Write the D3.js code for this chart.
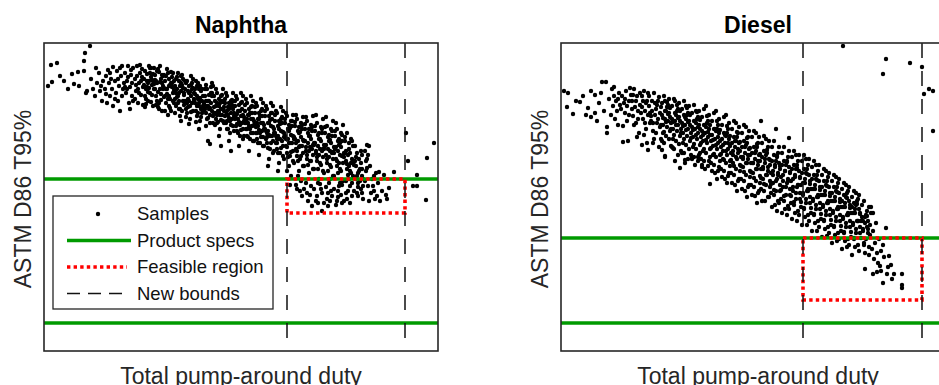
<!DOCTYPE html>
<meta charset="utf-8">
<style>
body { margin: 0; background: #fff; }
text { font-family: "Liberation Sans", Arial, sans-serif; }
</style>
<svg width="939" height="385"></svg>
<script src="https://d3js.org/d3.v7.min.js"></script>
<script>

// values in arbitrary units: duty 0..394, T95 0..308 (no ticks on the original)
var dutyDomain = [0, 394],
    t95Domain = [0, 308];

var panelNames = ["Naphtha", "Diesel"];
var legendLabels = ["Samples", "Product specs", "Feasible region", "New bounds"];

var naphthaSpecs = [172, 28],
    dieselSpecs = [113, 28];
var naphthaBounds = [243, 361],
    dieselBounds = [242, 361];
// [duty lo, duty hi, t95 lo, t95 hi]
var naphthaFeasible = [243, 361, 138, 172],
    dieselFeasible = [242, 361, 51, 113];

var naphthaSamples = [
 [4,265],[8,269],[7,286],[13,288],[20,270],[28,277],[30,267],[34,279],[35,265],[40,280],[40,290],[41,298],[46,305],[43,260],[42,258],[24,262],[16,275],
 [47,272],[49,262],[51,255],[53,268],[55,278],[56,260],[58,250],[59,270],[52,283],[57,265],
 [61,262],[62,275],[63,248],[64,281],[65,268],[66,255],[67,272],[68,262],[69,284],[69,245],[62,257],[66,278],
 [71,270],[72,258],[73,280],[74,250],[75,265],[76,240],[77,275],[78,285],[79,262],[71,252],[74,272],[78,255],[76,283],[80,268],
 [81,278],[82,258],[83,270],[84,285],[85,248],[86,264],[87,276],[88,255],[89,283],[81,264],[84,274],[86,242],[88,268],[89,250],[83,262],[87,281],
 [91,272],[92,260],[93,285],[94,248],[95,268],[96,278],[97,256],[98,282],[99,264],[91,252],[93,275],[95,258],[97,270],[99,246],[92,266],[96,286],[98,274],[94,262],
 [101,280],[102,262],[103,270],[104,250],[105,285],[106,258],[107,274],[108,266],[109,245],[101,255],[103,277],[105,263],[107,283],[109,270],[102,247],[104,268],[106,278],[108,256],[110,262],[100,272],
 [111,276],[112,255],[113,268],[114,282],[115,248],[116,262],[117,272],[118,240],[119,265],[111,262],[113,250],[115,279],[117,257],[119,275],[112,270],[114,244],[116,285],[118,268],[120,254],[110,283],
 [121,270],[122,248],[123,262],[124,278],[125,255],[126,266],[127,240],[128,274],[129,258],[121,255],[123,282],[125,245],[127,268],[129,278],[122,262],[124,236],[126,252],[128,264],[130,248],[120,276],[125,272],
 [131,265],[132,245],[133,274],[134,255],[135,270],[136,235],[137,260],[138,276],[139,250],[131,252],[133,262],[135,242],[137,268],[139,272],[132,258],[134,278],[136,265],[138,240],[140,258],[130,270],[135,250],[137,230],
 [141,262],[142,242],[143,270],[144,252],[145,258],[146,232],[147,266],[148,248],[149,272],[141,250],[143,238],[145,265],[147,255],[149,240],[142,268],[144,260],[146,245],[148,262],[150,252],[140,246],[145,227],[147,275],
 [151,262],[152,240],[153,255],[154,268],[155,245],[156,230],[157,260],[158,250],[159,272],[151,248],[153,235],[155,262],[157,242],[159,255],[152,270],[154,252],[156,265],[158,238],[160,246],[150,258],[155,222],[157,250],[153,245],
 [161,255],[162,238],[163,262],[164,245],[165,250],[166,228],[167,258],[168,240],[169,265],[161,242],[163,232],[165,256],[167,248],[169,235],[162,266],[164,250],[166,243],[168,255],[170,238],[160,248],[164,210],[166,207],[162,225],[168,268],
 [171,250],[172,232],[173,258],[174,240],[175,245],[176,222],[177,255],[178,236],[179,262],[171,238],[173,228],[175,252],[177,242],[179,230],[172,262],[174,246],[176,236],[178,250],[180,240],[170,255],[175,215],[177,205],[173,248],
 [181,248],[182,228],[183,255],[184,236],[185,242],[186,218],[187,250],[188,232],[189,258],[181,235],[183,222],[185,248],[187,238],[189,225],[182,258],[184,244],[186,230],[188,246],[190,235],[180,228],[185,210],[187,200],[183,240],[189,250],
 [191,245],[192,225],[193,252],[194,232],[195,240],[196,215],[197,248],[198,228],[199,255],[191,232],[193,220],[195,246],[197,235],[199,222],[192,255],[194,240],[196,226],[198,242],[200,230],[190,220],[195,205],[197,258],[193,237],[199,212],
 [201,240],[202,222],[203,248],[204,228],[205,236],[206,212],[207,244],[208,225],[209,250],[201,228],[203,215],[205,242],[207,232],[209,218],[202,252],[204,236],[206,222],[208,238],[210,226],[200,215],[205,200],[207,255],[203,232],[209,210],
 [211,238],[212,218],[213,245],[214,225],[215,232],[216,208],[217,240],[218,220],[219,248],[211,225],[213,212],[215,238],[217,228],[219,214],[212,248],[214,232],[216,218],[218,235],[220,222],[210,210],[215,196],[217,252],[213,228],[219,205],
 [221,235],[222,212],[223,242],[224,220],[225,228],[226,202],[227,238],[228,215],[229,245],[221,222],[223,208],[225,235],[227,225],[229,210],[222,245],[224,228],[226,215],[228,232],[230,218],[220,205],[225,192],[227,248],[223,218],[229,198],[224,185],
 [231,230],[232,208],[233,238],[234,215],[235,222],[236,198],[237,232],[238,210],[239,240],[231,218],[233,202],[235,230],[237,220],[239,205],[232,240],[234,225],[236,212],[238,228],[240,214],[230,200],[235,188],[237,244],[233,212],[239,195],[234,180],
 [241,228],[242,205],[243,235],[244,212],[245,220],[246,195],[247,230],[248,208],[249,236],[241,215],[243,198],[245,226],[247,216],[249,200],[242,238],[244,222],[246,208],[248,225],[250,212],[240,192],[245,185],[247,175],[243,180],[249,190],[246,166],
 [251,225],[252,202],[253,232],[254,210],[255,218],[256,192],[257,228],[258,205],[259,234],[251,212],[253,195],[255,224],[257,214],[259,198],[252,236],[254,220],[256,205],[258,222],[260,210],[250,188],[255,180],[257,170],[253,162],[259,185],[254,175],[258,155],
 [261,222],[262,200],[263,230],[264,208],[265,215],[266,190],[267,226],[268,202],[269,235],[261,210],[263,192],[265,222],[267,212],[269,196],[262,234],[264,218],[266,204],[268,220],[270,208],[260,185],[265,178],[267,165],[263,158],[269,182],[264,150],[268,145],
 [271,220],[272,198],[273,228],[274,205],[275,212],[276,188],[277,224],[278,200],[279,232],[271,208],[273,190],[275,218],[277,210],[279,194],[272,236],[274,216],[276,202],[278,218],[280,206],[270,182],[275,172],[277,162],[273,155],[279,180],[274,148],[278,140],[276,167],
 [281,218],[282,196],[283,225],[284,202],[285,210],[286,186],[287,222],[288,198],[289,230],[281,205],[283,188],[285,216],[287,208],[289,192],[282,234],[284,214],[286,200],[288,215],[290,204],[280,178],[285,168],[287,160],[283,152],[289,175],[284,145],[288,155],[286,172],
 [291,215],[292,192],[293,222],[294,200],[295,206],[296,182],[297,218],[298,195],[299,226],[291,202],[293,185],[295,212],[297,204],[299,188],[292,228],[294,210],[296,196],[298,210],[300,198],[290,175],[295,165],[297,156],[293,150],[299,170],[294,160],[298,148],
 [301,210],[302,190],[303,218],[304,196],[305,202],[306,180],[307,212],[308,192],[309,205],[301,198],[303,182],[305,208],[307,188],[309,175],[302,170],[304,160],[306,165],[308,155],[300,150],[305,172],[303,152],
 [311,205],[312,185],[313,198],[314,178],[315,192],[316,170],[317,200],[318,182],[319,165],[311,190],[313,158],[315,180],[317,162],[319,152],[312,172],[314,155],[318,175],
 [321,200],[322,180],[323,192],[324,165],[326,185],[327,158],[328,172],[330,160],[332,178],[333,155],[321,170],[325,150],[329,165],[331,152],[334,168],[323,183],
 [335,179],[340,176],[350,179],[338,160],[342,156],[345,163],[336,150],[362,218],[364,190],[373,176],[383,193],[390,208],[369,165],[373,165],[382,151],[323,206],[325,205],[322,190],[324,196],[343,152],[330,175],
 // denser core
 [100,266],[104,259],[108,271],[102,252],[106,283],[103,264],[107,249],[109,277],[101,244],[105,270],
 [110,267],[114,259],[118,276],[112,246],[116,269],[113,280],[117,251],[119,262],[111,271],[115,242],
 [120,263],[124,252],[128,268],[122,275],[126,243],[123,257],[127,279],[129,250],[121,240],[125,265],
 [130,261],[134,248],[138,266],[132,272],[136,242],[133,254],[137,275],[139,263],[131,238],[135,258],
 [140,256],[144,244],[148,268],[142,234],[146,259],[143,248],[147,239],[149,263],[141,270],[145,250],
 [150,251],[154,238],[158,262],[152,229],[156,253],[153,265],[157,234],[159,245],[151,257],[155,248],
 [160,241],[164,233],[168,258],[162,250],[166,236],[163,245],[167,264],[169,228],[161,262],[165,242],
 [170,244],[174,229],[178,256],[172,245],[176,248],[173,236],[177,231],[179,249],[171,226],[175,239],
 [180,244],[184,222],[188,251],[182,239],[186,244],[183,230],[187,226],[189,242],[181,252],[185,233],
 [190,238],[194,218],[198,249],[192,233],[196,240],[193,227],[197,221],[199,236],[191,250],[195,229],
 [200,234],[204,214],[208,245],[202,228],[206,238],[203,222],[207,218],[209,232],[201,246],[205,225],
 [210,230],[214,208],[218,242],[212,224],[216,235],[213,218],[217,214],[219,228],[211,244],[215,221],
 [220,226],[224,203],[228,238],[222,220],[226,231],[223,214],[227,208],[229,224],[221,240],[225,216],
 [230,222],[234,198],[238,234],[232,215],[236,227],[233,208],[237,203],[239,219],[231,236],[235,212],
 [240,218],[244,194],[248,230],[242,212],[246,223],[243,204],[247,199],[249,215],[241,232],[245,208],
 [250,214],[254,190],[258,226],[252,208],[256,219],[253,200],[257,195],[259,211],[251,229],[255,204],
 [260,210],[264,186],[268,224],[262,204],[266,215],[263,196],[267,190],[269,206],[261,227],[265,200],
 [270,206],[274,182],[278,222],[272,200],[276,212],[273,194],[277,186],[279,202],[271,225],[275,196],
 [280,202],[284,180],[288,220],[282,206],[286,211],[283,192],[287,184],[289,199],[281,224],[285,194],
 [290,198],[294,178],[298,216],[292,204],[296,208],[293,190],[297,180],[299,195],[291,220],[295,188],
 [300,194],[304,176],[308,210],[302,200],[306,198],[303,187],[307,178],[309,190],[301,214],[305,185],
 [310,186],[314,168],[318,196],[312,194],[316,182],[313,175],[317,188],[319,172],
 [252,166],[256,160],[262,168],[266,156],[270,162],[274,168],[278,158],[282,164],[286,150],[290,162],[294,154],[298,166],
 [302,158],[306,148],[310,160],[314,164],[318,158],[260,162],[272,150],[284,158],[296,168],[308,168],[280,148],[292,146]
];

var dieselSamples = [
 [3,260],[7,258],[6,244],[12,237],[19,249],[27,243],[30,260],[30,234],[34,256],[34,238],[40,258],[41,269],[45,269],[46,224],[46,218],[22,255],[15,250],[38,248],[43,240],[48,252],[36,230],[25,236],
 [51,262],[52,245],[53,255],[54,232],[55,250],[56,240],[57,226],[58,258],[59,246],[50,236],[53,264],[57,252],
 [61,255],[62,209],[63,248],[64,238],[65,260],[66,230],[67,210],[68,250],[69,263],[60,242],[62,225],[64,252],[66,245],[68,236],[70,256],
 [71,250],[72,235],[73,262],[74,244],[75,228],[76,255],[77,240],[78,218],[79,258],[71,242],[73,226],[75,250],[77,232],[79,246],[72,256],[76,214],[80,238],
 [81,255],[82,232],[83,260],[84,240],[85,222],[86,250],[87,236],[88,245],[89,228],[81,244],[83,216],[85,248],[87,258],[89,238],[82,250],[84,228],[86,208],[88,255],[90,235],
 [91,250],[92,228],[93,258],[94,236],[95,218],[96,246],[97,232],[98,254],[99,224],[91,240],[93,212],[95,242],[97,250],[99,238],[92,220],[94,248],[96,228],[98,204],[100,244],[90,230],
 [101,248],[102,226],[103,255],[104,232],[105,215],[106,244],[107,230],[108,252],[109,220],[101,236],[103,208],[105,240],[107,246],[109,234],[102,218],[104,195],[106,224],[108,238],[110,228],[100,212],[104,250],
 [111,245],[112,222],[113,252],[114,230],[115,210],[116,240],[117,226],[118,248],[119,215],[111,232],[113,202],[115,236],[117,242],[119,230],[112,212],[114,190],[116,220],[118,234],[120,222],[110,205],[119,183],[114,250],[117,196],
 [121,242],[122,218],[123,250],[124,226],[125,206],[126,236],[127,222],[128,245],[129,210],[121,228],[123,198],[125,232],[127,238],[129,226],[122,208],[124,188],[126,215],[128,230],[130,218],[120,200],[125,245],[127,192],[123,236],
 [131,238],[132,214],[133,246],[134,222],[135,202],[136,232],[137,218],[138,240],[139,206],[131,224],[133,194],[135,228],[137,234],[139,222],[132,204],[134,186],[136,212],[138,226],[140,214],[130,196],[135,240],[137,190],[133,230],[139,198],
 [141,234],[142,210],[143,242],[144,218],[145,198],[146,228],[147,214],[148,236],[149,202],[141,220],[143,190],[145,224],[147,230],[149,216],[142,200],[144,182],[146,208],[148,222],[150,210],[140,192],[145,245],[147,185],[143,226],[149,194],[149,167],
 [151,230],[152,205],[153,238],[154,212],[155,194],[156,222],[157,208],[158,232],[159,196],[151,216],[153,186],[155,220],[157,226],[159,210],[152,196],[154,178],[156,202],[158,218],[160,204],[150,188],[155,240],[157,180],[153,222],[159,190],[156,172],
 [161,226],[162,200],[163,234],[164,208],[165,188],[166,218],[167,202],[168,228],[169,190],[161,212],[163,180],[165,215],[167,222],[169,205],[162,192],[164,172],[166,196],[168,212],[170,198],[160,182],[165,236],[167,175],[163,218],[169,185],[166,168],
 [171,222],[172,196],[173,230],[174,204],[175,182],[176,214],[177,198],[178,224],[179,186],[171,208],[173,176],[175,210],[177,218],[179,200],[172,188],[174,166],[176,192],[178,208],[180,194],[170,178],[175,228],[177,170],[173,214],[179,180],[176,160],
 [181,218],[182,192],[183,226],[184,198],[185,176],[186,208],[187,192],[188,220],[189,180],[181,204],[183,170],[185,206],[187,214],[189,196],[182,184],[184,160],[186,188],[188,202],[190,188],[180,172],[185,224],[187,164],[183,210],[189,174],[186,154],
 [191,214],[192,188],[193,220],[194,192],[195,170],[196,204],[197,186],[198,214],[199,175],[191,198],[193,164],[195,200],[197,208],[199,190],[192,178],[194,155],[196,182],[198,196],[200,182],[190,166],[195,218],[197,158],[193,204],[199,168],[196,148],
 [201,208],[202,184],[203,215],[204,188],[205,166],[206,198],[207,180],[208,210],[209,170],[201,194],[203,160],[205,196],[207,204],[209,186],[202,172],[204,150],[206,176],[208,192],[210,178],[200,162],[205,212],[207,154],[203,200],[209,164],[200,230],
 [211,204],[212,180],[213,210],[214,184],[215,160],[216,194],[217,176],[218,204],[219,166],[211,190],[213,156],[215,190],[217,198],[219,182],[212,168],[214,146],[216,172],[218,188],[220,174],[210,158],[215,222],[217,150],[213,196],[219,160],[216,140],
 [221,198],[222,176],[223,204],[224,180],[225,156],[226,190],[227,170],[228,200],[229,162],[221,186],[223,150],[225,186],[227,194],[229,178],[222,164],[224,142],[226,168],[228,184],[230,170],[220,152],[228,213],[227,145],[223,190],[229,156],[226,136],
 [231,194],[232,172],[233,200],[234,176],[235,152],[236,186],[237,166],[238,196],[239,158],[231,182],[233,146],[235,182],[237,190],[239,174],[232,160],[234,138],[236,164],[238,180],[240,166],[230,148],[235,196],[237,140],[233,186],[239,152],[236,130],
 [241,190],[242,168],[243,196],[244,172],[245,148],[246,182],[247,162],[248,192],[249,154],[241,178],[243,142],[245,178],[247,186],[249,170],[242,156],[244,134],[246,160],[248,176],[250,162],[240,144],[245,192],[247,136],[243,182],[249,148],[246,126],
 [251,184],[252,162],[253,190],[254,166],[255,142],[256,176],[257,156],[258,186],[259,148],[251,172],[253,136],[255,172],[257,180],[259,164],[252,150],[254,128],[256,154],[258,170],[260,156],[250,138],[255,186],[257,130],[253,176],[259,142],[256,120],
 [261,176],[262,156],[263,182],[264,160],[265,136],[266,170],[267,150],[268,178],[269,142],[261,164],[263,130],[265,166],[267,174],[269,158],[262,144],[264,122],[266,148],[268,164],[270,150],[260,132],[265,180],[267,124],[263,170],[269,136],[266,115],
 [271,170],[272,150],[273,176],[274,154],[275,130],[276,164],[277,144],[278,172],[279,136],[271,158],[273,124],[275,160],[277,168],[279,152],[272,138],[274,116],[276,142],[278,158],[280,144],[270,126],[275,174],[277,118],[273,164],[279,130],[276,110],
 [281,162],[282,144],[283,168],[284,148],[285,124],[286,158],[287,138],[288,164],[289,130],[281,150],[283,118],[285,154],[287,160],[289,146],[282,132],[284,110],[286,136],[288,150],[290,138],[280,120],[285,166],[287,112],[283,156],[289,124],[286,104],
 [291,154],[292,138],[293,160],[294,142],[295,118],[296,150],[297,130],[298,156],[299,124],[291,144],[293,112],[295,146],[297,152],[299,138],[292,126],[294,104],[296,130],[298,142],[300,130],[290,114],[295,158],[297,106],[293,148],[299,118],
 [301,146],[302,130],[303,150],[304,134],[305,112],[306,140],[307,122],[308,144],[309,116],[301,134],[303,106],[305,136],[307,130],[309,126],[302,120],[304,98],[306,124],[308,104],[304,82],[310,144],[310,138],
 [312,138],[312,77],[316,79],[322,68],[326,77],[331,72],[333,77],[341,77],[341,66],[341,63],[330,86],[325,123],[323,94],[312,120],[314,108],[316,98],[318,112],[320,100],[313,92],[317,88],[322,106],[315,128],[319,85],[328,95],[311,102],[320,80],[327,84],
 [282,305],[325,292],[322,277],[349,288],[361,284],[363,257],[368,262],[372,260],[372,220],
 [81,206],[87,201],[92,208],[101,201],[104,194],[112,203],[124,191],[131,193],[137,194],[141,184],
 // denser core
 [100,226],[104,240],[108,212],[102,233],[106,249],[103,219],[107,237],[109,243],[101,210],[105,229],
 [110,222],[114,238],[118,207],[112,229],[116,246],[113,216],[117,233],[119,240],[111,204],[115,226],
 [120,218],[124,234],[128,202],[122,225],[126,243],[123,212],[127,229],[129,236],[121,198],[125,221],
 [130,213],[134,230],[138,196],[132,221],[136,239],[133,207],[137,224],[139,231],[131,192],[135,216],
 [140,208],[144,226],[148,190],[142,216],[146,235],[143,202],[147,219],[149,226],[141,186],[145,211],
 [150,203],[154,222],[158,184],[152,211],[156,230],[153,197],[157,214],[159,221],[151,180],[155,206],
 [160,197],[164,216],[168,178],[162,206],[166,225],[163,191],[167,208],[169,215],[161,174],[165,200],
 [170,191],[174,210],[178,172],[172,200],[176,219],[173,185],[177,202],[179,209],[171,168],[175,194],
 [180,185],[184,204],[188,166],[182,194],[186,213],[183,179],[187,196],[189,203],[181,162],[185,188],
 [190,179],[194,198],[198,160],[192,188],[196,207],[193,173],[197,190],[199,197],[191,156],[195,182],
 [200,173],[204,192],[208,154],[202,182],[206,201],[203,167],[207,184],[209,191],[201,150],[205,176],
 [210,167],[214,186],[218,148],[212,176],[216,195],[213,161],[217,178],[219,185],[211,144],[215,170],
 [220,161],[224,180],[228,142],[222,170],[226,189],[223,155],[227,172],[229,179],[221,138],[225,164],
 [230,155],[234,174],[238,136],[232,164],[236,183],[233,149],[237,166],[239,173],[231,132],[235,158],
 [240,149],[244,168],[248,130],[242,158],[246,177],[243,143],[247,160],[249,167],[241,126],[245,152],
 [250,143],[254,162],[258,124],[252,152],[256,171],[253,137],[257,154],[259,161],[251,120],[255,146],
 [260,137],[264,156],[268,118],[262,146],[266,165],[263,131],[267,148],[269,155],[261,114],[265,140],
 [270,131],[274,150],[278,112],[272,140],[276,159],[273,125],[277,142],[279,149],[271,108],[275,134],
 [280,125],[284,144],[288,106],[282,134],[286,153],[283,119],[287,136],[289,143],[281,102],[285,128],
 [290,119],[294,138],[298,100],[292,128],[296,147],[293,113],[297,130],[299,137],[291,96],[295,122],
 [300,113],[304,128],[308,96],[302,122],[306,135],[303,108],[307,118]
];

var panels = [
  {name: panelNames[0], samples: naphthaSamples, specs: naphthaSpecs, bounds: naphthaBounds, feasible: naphthaFeasible, left: 44, legend: true},
  {name: panelNames[1], samples: dieselSamples, specs: dieselSpecs, bounds: dieselBounds, feasible: dieselFeasible, left: 561, legend: false}
];

var svg = d3.select("svg"),
    marginTop = 43,
    width = 394,
    height = 308,
    green = "#009a00",
    red = "#ff0000",
    dotted = "3.4,3.2",
    dashed = "15,13";

var x = d3.scaleLinear().domain(dutyDomain).range([0, width]),
    y = d3.scaleLinear().domain(t95Domain).range([height, 0]);

panels.forEach(function(p) {
  var g = svg.append("g").attr("transform", "translate(" + p.left + "," + marginTop + ")");

  g.append("g")
    .selectAll("circle")
    .data(p.samples)
    .enter().append("circle")
      .attr("cx", function(d) { return x(d[0]); })
      .attr("cy", function(d) { return y(d[1]); })
      .attr("r", 2.2)
      .attr("fill", "#000");

  g.selectAll(".spec")
    .data(p.specs)
    .enter().append("line")
      .attr("class", "spec")
      .attr("x1", 0)
      .attr("x2", width)
      .attr("y1", y)
      .attr("y2", y)
      .attr("stroke", green)
      .attr("stroke-width", 3.6);

  var f = p.feasible;
  g.append("path")
      .attr("d", "M" + x(f[0]) + "," + y(f[3]) + "H" + x(f[1]) + "V" + y(f[2]) + "H" + x(f[0]) + "Z")
      .attr("fill", "none")
      .attr("stroke", red)
      .attr("stroke-width", 3.6)
      .attr("stroke-dasharray", dotted);

  g.selectAll(".bound")
    .data(p.bounds)
    .enter().append("line")
      .attr("class", "bound")
      .attr("x1", x)
      .attr("x2", x)
      .attr("y1", 0)
      .attr("y2", height)
      .attr("stroke", "#111")
      .attr("stroke-width", 1.5)
      .attr("stroke-dasharray", dashed);

  g.append("rect")
      .attr("width", width)
      .attr("height", height)
      .attr("fill", "none")
      .attr("stroke", "#262626")
      .attr("stroke-width", 1.6);

  g.append("text")
      .attr("x", width / 2)
      .attr("y", -10)
      .attr("text-anchor", "middle")
      .attr("font-size", 23)
      .attr("font-weight", "bold")
      .attr("fill", "#000")
      .text(p.name);

  g.append("text")
      .attr("transform", "rotate(-90)")
      .attr("x", -height / 2 - 2)
      .attr("y", -13)
      .attr("text-anchor", "middle")
      .attr("font-size", 23)
      .attr("fill", "#262626")
      .text("ASTM D86 T95%");

  g.append("text")
      .attr("x", width / 2)
      .attr("y", height + 33)
      .attr("text-anchor", "middle")
      .attr("font-size", 23)
      .attr("fill", "#262626")
      .text("Total pump-around duty");

  if (p.legend) {
    var lg = g.append("g").attr("transform", "translate(9,153)");
    lg.append("rect")
        .attr("width", 220)
        .attr("height", 113)
        .attr("fill", "#fff")
        .attr("stroke", "#262626")
        .attr("stroke-width", 1.3);

    var item = lg.selectAll(".item")
      .data(legendLabels)
      .enter().append("g")
        .attr("class", "item")
        .attr("transform", function(d, i) { return "translate(0," + (18 + i * 26.5) + ")"; });

    item.append("text")
        .attr("x", 84)
        .attr("y", 6)
        .attr("font-size", 18.5)
        .attr("fill", "#111")
        .text(function(d) { return d; });

    item.each(function(d, i) {
      var s = d3.select(this);
      if (i === 0) {
        s.append("circle").attr("cx", 45).attr("cy", 0).attr("r", 2.2).attr("fill", "#000");
      } else if (i === 1) {
        s.append("line").attr("x1", 14).attr("x2", 78).attr("stroke", green).attr("stroke-width", 3.6);
      } else if (i === 2) {
        s.append("line").attr("x1", 14).attr("x2", 74).attr("stroke", red).attr("stroke-width", 3.6).attr("stroke-dasharray", dotted);
      } else {
        s.append("line").attr("x1", 14).attr("x2", 77).attr("stroke", "#111").attr("stroke-width", 1.5).attr("stroke-dasharray", "13,8");
      }
    });
  }
});

</script>
